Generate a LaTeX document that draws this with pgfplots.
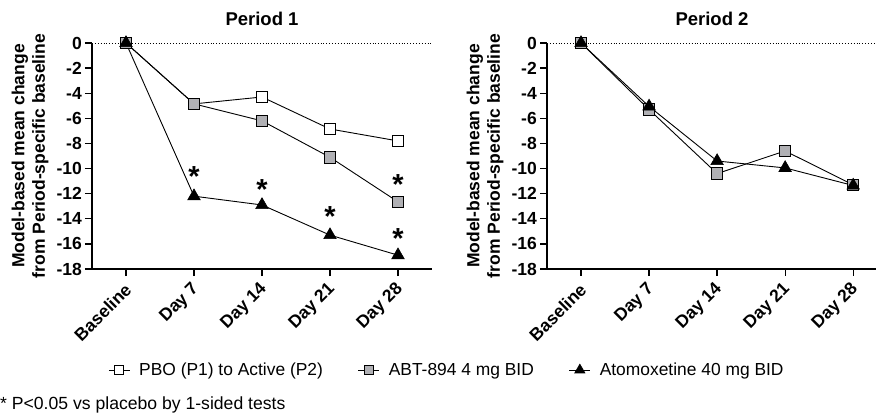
\documentclass[border=0pt]{standalone}
\usepackage{fontspec}
\setmainfont{Liberation Sans}
\usepackage{pgfplots}
\pgfplotsset{compat=1.18}
\definecolor{sqgray}{RGB}{176,176,180}

\pgfplotsset{
 myaxis/.style={
  scale only axis, height=226bp,
  axis lines=left, axis line style={-, line width=1.3bp},
  xmin=-0.5, ymin=-18, ymax=0,
  xtick={0,...,4}, xticklabels={Baseline,Day 7,Day 14,Day 21,Day 28},
  ytick={-18,-16,...,0},
  tick align=outside, major tick length=7bp, tick style={line width=1.3bp, black},
  /pgf/number format/assume math mode=true,
  ticklabel style={font=\fontsize{17.5bp}{19bp}\selectfont\bfseries},
  xticklabel style={xshift=3bp, yshift=-10bp, rotate=45, anchor=east, inner sep=1bp},
  yticklabel style={inner sep=3bp},
  ylabel style={at={([xshift=-62bp]axis description cs:0,0.5)}, anchor=center, align=center,
    font=\fontsize{17.5bp}{20.5bp}\selectfont\bfseries},
  title style={at={(axis description cs:0.5,1)}, anchor=center, yshift=18.5bp,
    font=\fontsize{18.5bp}{20bp}\selectfont\bfseries},
  clip=false,
  every axis plot/.append style={line width=0.9bp, black},
 },
 sq/.style={mark=square*, mark size=5.7bp, mark options={fill=#1, line width=0.9bp}},
 tri/.style={mark=triangle*, mark size=7.2bp, mark options={fill=black, line width=0.6bp}},
 stars/.style={forget plot, draw=none, mark=none, nodes near coords={*}, point meta=y,
   nodes near coords align={center},
   every node near coord/.append style={font=\fontsize{29bp}{30bp}\selectfont\bfseries,
     anchor=center, inner sep=0pt, yshift=-6.4bp}},
}

\begin{document}
\begin{tikzpicture}
\begin{axis}[myaxis, at={(92bp,144bp)}, anchor=south west, width=340bp, xmax=4.5,
  title={Period 1},
  ylabel={Model-based mean change\\from Period-specific baseline},
  legend style={at={(axis description cs:1.041,-0.447)}, anchor=center, draw=none, fill=none,
    font=\fontsize{17.4bp}{19bp}\selectfont, legend columns=3, nodes={inner sep=0pt},
    /tikz/every odd column/.append style={column sep=9bp},
    /tikz/every even column/.append style={column sep=35bp}},
  legend cell align=left,
  legend image code/.code={\draw[mark repeat=2,mark phase=2,every mark/.append style={scale=0.82}]
     plot coordinates {(0bp,0bp) (10.5bp,0bp) (21bp,0bp)};},
]
\addplot[forget plot, dotted, line width=0.8bp, mark=none] coordinates {(-0.5,0) (4.5,0)};
\addplot[sq=white] coordinates {(0,0) (1,-4.85) (2,-4.3) (3,-6.85) (4,-7.8)};
\addlegendentry{PBO (P1) to Active (P2)}
\addplot[sq=sqgray] coordinates {(0,0) (1,-4.85) (2,-6.2) (3,-9.1) (4,-12.65)};
\addlegendentry{ABT-894 4 mg BID}
\addplot[tri] coordinates {(0,0) (1,-12.2) (2,-12.9) (3,-15.3) (4,-16.9)};
\addlegendentry{Atomoxetine 40 mg BID}
\addplot[stars] coordinates {(1,-10.14) (2,-11.15) (3,-13.33) (4,-10.8) (4,-15.05)};
\end{axis}

\begin{axis}[myaxis, at={(547bp,144bp)}, anchor=south west, width=330bp, xmax=4.35,
  title={Period 2},
  ylabel={Model-based mean change\\from Period-specific baseline},
]
\addplot[forget plot, dotted, line width=0.8bp, mark=none] coordinates {(-0.5,0) (4.35,0)};
\addplot[sq=sqgray] coordinates {(0,0) (1,-5.3) (2,-10.4) (3,-8.6) (4,-11.3)};
\addplot[tri] coordinates {(0,0) (1,-5.05) (2,-9.4) (3,-9.95) (4,-11.35)};
\end{axis}

\node[anchor=west, inner sep=0pt, font=\fontsize{17.6bp}{19bp}\selectfont] at (0bp,8bp)
  {* P<0.05 vs placebo by 1-sided tests};

\pgfresetboundingbox
\useasboundingbox (0bp,0bp) rectangle (876bp,413bp);
\end{tikzpicture}
\end{document}
